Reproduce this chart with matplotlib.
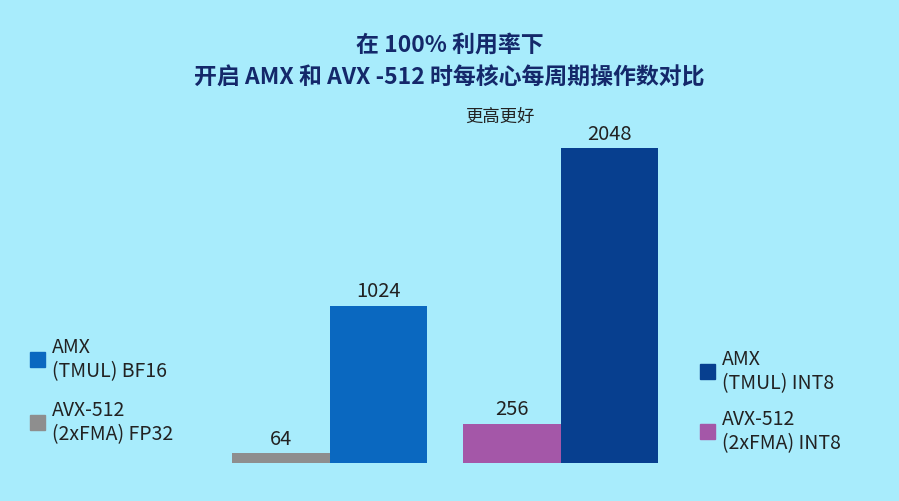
import matplotlib
matplotlib.use("Agg")
import matplotlib.pyplot as plt

plt.rcParams['font.family'] = ['Noto Sans CJK SC', 'DejaVu Sans']

labels = ["AVX-512\n(2xFMA) FP32", "AMX\n(TMUL) BF16", "AVX-512\n(2xFMA) INT8", "AMX\n(TMUL) INT8"]
values = [64, 1024, 256, 2048]
colors = ["#8e8e8e", "#0a68c0", "#a457a8", "#073f8f"]
positions = [2.88, 3.88, 5.25, 6.25]

bg = "#a8ecfc"
fig = plt.figure(figsize=(8.99, 5.01), dpi=100, facecolor=bg)
ax = fig.add_axes([0, 38/501, 1, 315/501])
ax.set_facecolor(bg)
ax.bar(positions, values, width=1.0, color=colors)
for p, v in zip(positions, values):
    ax.text(p, v + 22, str(v), ha='center', va='bottom', fontsize=14.5, color='#222222')
ax.set_xlim(0, 899/97.5)
ax.set_ylim(0, 2048)
ax.axis('off')

tc = "#14286a"
fig.text(0.5, 1-45/501, "在 100% 利用率下", ha='center', va='center', fontsize=16.5, fontweight='bold', color=tc)
fig.text(0.5, 1-78/501, "开启 AMX 和 AVX -512 时每核心每周期操作数对比", ha='center', va='center', fontsize=16.5, fontweight='bold', color=tc)
fig.text(500/899, 1-117/501, "更高更好", ha='center', va='center', fontsize=12.5, color='#222222')

def legend(x, y, color, text):
    fig.patches.append(plt.Rectangle((x/899, 1-(y+7)/501), 15/899, 15/501, transform=fig.transFigure, color=color))
    fig.text((x+22)/899, 1-y/501, text, ha='left', va='center', fontsize=14, color='#222222', linespacing=1.2)

legend(30, 360, colors[1], labels[1])
legend(30, 423, colors[0], labels[0])
legend(700, 372, colors[3], labels[3])
legend(700, 432, colors[2], labels[2])

fig.savefig("out.png", dpi=100, facecolor=bg)
